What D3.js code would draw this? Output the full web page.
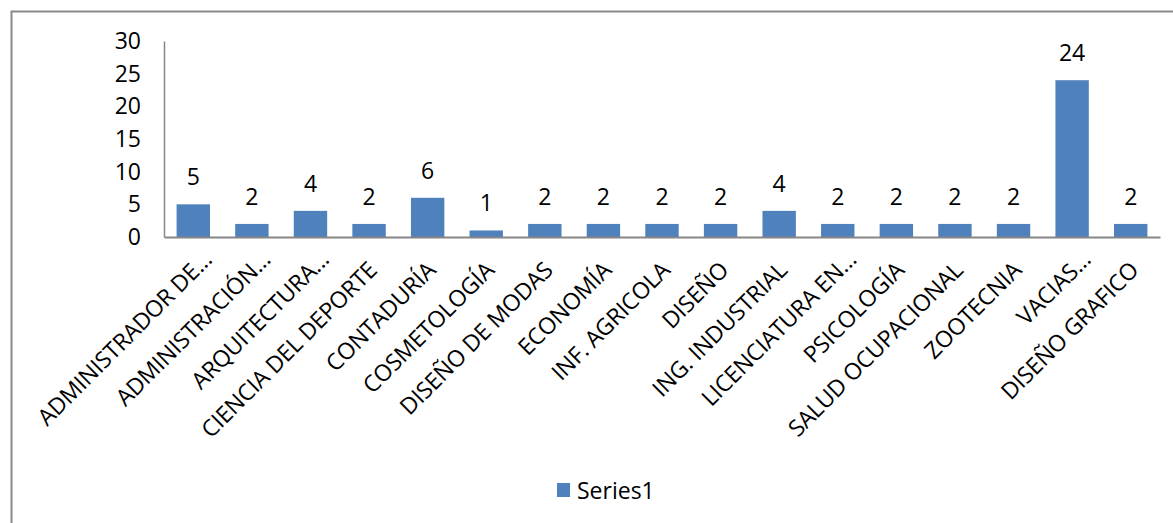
<!DOCTYPE html>
<html>
<head>
<meta charset="utf-8">
<script src="https://cdn.jsdelivr.net/npm/d3@7"></script>
<style>
  body { margin: 0; background: #fff; }
  text { font-family: "Open Sans", sans-serif; fill: #000; }
</style>
</head>
<body>
<div id="chart"></div>
<script>
// Data
const categories = [
  "ADMINISTRADOR DE...", "ADMINISTRACIÓN...", "ARQUITECTURA...", "CIENCIA DEL DEPORTE",
  "CONTADURÍA", "COSMETOLOGÍA", "DISEÑO DE MODAS", "ECONOMÍA", "INF. AGRICOLA",
  "DISEÑO", "ING. INDUSTRIAL", "LICENCIATURA EN...", "PSICOLOGÍA",
  "SALUD OCUPACIONAL", "ZOOTECNIA", "VACIAS...", "DISEÑO GRAFICO"
];
const values = [5, 2, 4, 2, 6, 1, 2, 2, 2, 2, 4, 2, 2, 2, 2, 24, 2];
const yTicks = [0, 5, 10, 15, 20, 25, 30];
const seriesName = "Series1";

const W = 1173, H = 523;
const margin = { top: 41, right: 13, bottom: 286, left: 164 };
const w = W - margin.left - margin.right;
const h = H - margin.top - margin.bottom;
const fontSize = 23;

const svg = d3.select("#chart").append("svg")
  .attr("width", W).attr("height", H);

// chart area border (runs off the right and bottom edges)
svg.append("rect")
  .attr("x", 11.5).attr("y", 11.5)
  .attr("width", W + 20).attr("height", H + 20)
  .attr("fill", "none").attr("stroke", "#898989").attr("stroke-width", 2);

const g = svg.append("g")
  .attr("transform", `translate(${margin.left},${margin.top})`);

const x = d3.scaleBand().domain(categories).range([0, w]).paddingInner(0.43).paddingOuter(0.215);
const y = d3.scaleLinear().domain([0, 30]).range([h, 0]);

// y axis
const yAxis = g.append("g")
  .call(d3.axisLeft(y).tickValues(yTicks).tickSize(0).tickPadding(23));
yAxis.select(".domain").attr("stroke", "#868686").attr("stroke-width", 1.5);
yAxis.selectAll("text")
  .attr("font-size", fontSize).attr("font-family", "'Open Sans', sans-serif").attr("fill", "#000");

// bars
g.selectAll("rect.bar")
  .data(values)
  .join("rect")
  .attr("class", "bar")
  .attr("x", (d, i) => x(categories[i]))
  .attr("y", d => y(d))
  .attr("width", x.bandwidth())
  .attr("height", d => h - y(d))
  .attr("fill", "#4F81BD");

// x axis
const xAxis = g.append("g")
  .attr("transform", `translate(0,${h})`)
  .call(d3.axisBottom(x).tickSize(0).tickFormat(""));
xAxis.select(".domain").attr("stroke", "#868686").attr("stroke-width", 2);

// data labels
g.selectAll("text.val")
  .data(values)
  .join("text")
  .attr("class", "val")
  .attr("x", (d, i) => x(categories[i]) + x.bandwidth() / 2)
  .attr("y", d => y(d) - 19)
  .attr("text-anchor", "middle")
  .attr("font-size", fontSize)
  .text(d => d);

// rotated category labels (truncated ones sit a little further out)
g.selectAll("text.cat")
  .data(categories)
  .join("text")
  .attr("class", "cat")
  .attr("transform", d => `translate(${x(d) + x.bandwidth() / 2 + 20},${h + 24}) rotate(-45)`)
  .attr("dx", d => d.endsWith("...") ? 0 : -15)
  .attr("text-anchor", "end")
  .attr("font-size", fontSize)
  .attr("letter-spacing", -0.2)
  .text(d => d);

// legend
const legend = svg.append("g").attr("transform", "translate(557,483)");
legend.append("rect").attr("width", 13).attr("height", 14).attr("fill", "#4F81BD");
legend.append("text").attr("x", 20).attr("y", 16).attr("font-size", fontSize).text(seriesName);
</script>
</body>
</html>
